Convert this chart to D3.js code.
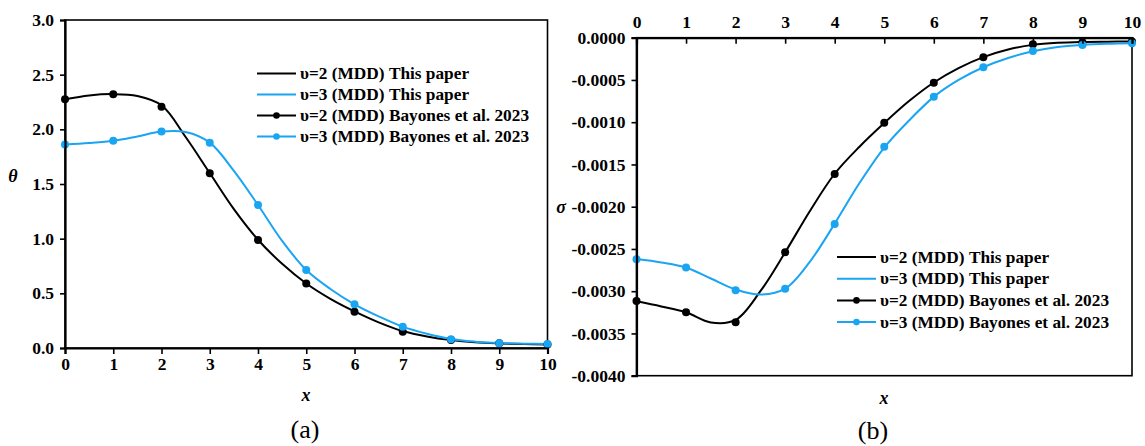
<!DOCTYPE html>
<html><head><meta charset="utf-8">
<script src="https://cdn.jsdelivr.net/npm/d3@7"></script>
<style>body{margin:0;background:#fff}svg{display:block}</style>
</head><body><svg id="c" width="1145" height="446"></svg>
<script>
const xTicks = [0,1,2,3,4,5,6,7,8,9,10];
const markerX = [0,1,2,3,4,5,6,7,8,9,10];
const lineX = [0,0.5,1,1.5,2,2.5,3,3.5,4,4.5,5,5.5,6,6.5,7,7.5,8,8.5,9,9.5,10];

// Panel (a): theta
const thetaTicks = [0,0.5,1,1.5,2,2.5,3];
const thetaLine2 = [2.275,2.31,2.322,2.305,2.22,1.93,1.60,1.27,0.99,0.77,0.59,0.45,0.335,0.235,0.155,0.105,0.072,0.052,0.042,0.036,0.032];
const thetaLine3 = [1.862,1.875,1.895,1.935,1.98,1.975,1.878,1.62,1.308,0.98,0.713,0.54,0.40,0.29,0.195,0.13,0.082,0.058,0.045,0.040,0.037];
const thetaMark2 = [2.275,2.322,2.207,1.598,0.988,0.59,0.332,0.149,0.073,0.043,0.032];
const thetaMark3 = [1.862,1.896,1.98,1.878,1.308,0.713,0.40,0.195,0.08,0.043,0.037];

// Panel (b): sigma
const sigmaTicks = [0,-0.0005,-0.001,-0.0015,-0.002,-0.0025,-0.003,-0.0035,-0.004];
const sigmaLine2 = [-0.00312,-0.00318,-0.00325,-0.00337,-0.00334,-0.00300,-0.00254,-0.00205,-0.00161,-0.00129,-0.00101,-0.00075,-0.00053,-0.00036,-0.00023,-0.00014,-0.000085,-0.00006,-0.00005,-0.000047,-0.000045];
const sigmaLine3 = [-0.00262,-0.00266,-0.00272,-0.00285,-0.00298,-0.00304,-0.00297,-0.00265,-0.00220,-0.00172,-0.00130,-0.00098,-0.00070,-0.00050,-0.00035,-0.00024,-0.00016,-0.00011,-0.000085,-0.000072,-0.000066];
const sigmaMark2 = [-0.003116,-0.00325,-0.003368,-0.00254,-0.001613,-0.001006,-0.000532,-0.000232,-0.000078,-0.000055,-0.000045];
const sigmaMark3 = [-0.002623,-0.00272,-0.00299,-0.00297,-0.002205,-0.00129,-0.000698,-0.00035,-0.000157,-0.000086,-0.000066];

const legendLabels = ["υ=2 (MDD) This paper","υ=3 (MDD) This paper","υ=2 (MDD) Bayones et al. 2023","υ=3 (MDD) Bayones et al. 2023"];
const BLACK = "#000", BLUE = "#1aa5f2";
const FF = "'Liberation Serif', 'Times New Roman', serif";

const svg = d3.select("#c");
const FS = 17.5, LFS = 17.3;
const hyph = f => v => f(v).replace("\u2212","-");

function panel(o){
  const g = svg.append("g").style("font-family",FF);
  const x = d3.scaleLinear().domain([0,10]).range([o.x0,o.x1]);
  const y = d3.scaleLinear().domain(o.ydom).range([o.yb,o.yt]);
  const line = d3.line().x((d,i)=>x(lineX[i])).y(d=>y(d)).curve(d3.curveCatmullRom.alpha(0.5));
  g.append("rect").attr("x",o.x0).attr("y",o.yt).attr("width",o.x1-o.x0).attr("height",o.yb-o.yt)
    .attr("fill","none").attr("stroke","#000").attr("stroke-width",1.6);
  [[o.l2,BLACK],[o.l3,BLUE]].forEach(([d,c])=>{
    g.append("path").datum(d).attr("d",line).attr("fill","none").attr("stroke",c).attr("stroke-width",2);
  });
  [[o.m2,BLACK],[o.m3,BLUE]].forEach(([d,c])=>{
    g.selectAll(null).data(d).enter().append("circle")
      .attr("cx",(v,i)=>x(markerX[i])).attr("cy",v=>y(v)).attr("r",4).attr("fill",c);
  });
  const ya = d3.axisLeft(y).tickValues(o.yticks).tickFormat(hyph(o.yfmt)).tickSize(5).tickPadding(6);
  const yg = g.append("g").attr("transform",`translate(${o.x0},0)`).call(ya);
  let xa;
  if(o.xTop){
    xa = d3.axisTop(x).tickValues(xTicks).tickFormat(d3.format("d")).tickSize(-6).tickPadding(10);
  } else {
    xa = d3.axisBottom(x).tickValues(xTicks).tickFormat(d3.format("d")).tickSize(6).tickPadding(4);
  }
  const xg = g.append("g").attr("transform",`translate(0,${o.xTop?o.yt:o.yb})`).call(xa);
  [yg,xg].forEach(a=>{
    a.attr("font-family",null);
    a.select(".domain").attr("stroke-width",2.2);
    a.selectAll(".tick line").attr("stroke-width",1.6);
    a.selectAll("text").style("font-family",FF).style("font-size",FS+"px").style("font-weight","bold").attr("fill","#000");
  });
  const tx = (p)=>g.append("text").style("font-family",FF).attr("x",p[0]).attr("y",p[1]).attr("text-anchor","middle");
  tx(o.ylab).style("font-size","18px").style("font-style","italic").style("font-weight","bold").text(o.ylab[2]);
  tx(o.xlab).style("font-size","18px").style("font-style","italic").style("font-weight","bold").text("x");
  tx(o.cap).style("font-size","26px").text(o.cap[2]);
  const lg = g.append("g");
  const cols=[BLACK,BLUE,BLACK,BLUE];
  legendLabels.forEach((t,i)=>{
    const yy = o.leg[1] + i*o.leg[2];
    lg.append("line").attr("x1",o.leg[0]).attr("x2",o.leg[0]+39).attr("y1",yy).attr("y2",yy)
      .attr("stroke",cols[i]).attr("stroke-width",2);
    if(i>=2) lg.append("circle").attr("cx",o.leg[0]+19.5).attr("cy",yy).attr("r",3.3).attr("fill",cols[i]);
    lg.append("text").attr("x",o.leg[0]+43).attr("y",yy).attr("dy","0.33em")
      .style("font-family",FF).style("font-size",LFS+"px").style("font-weight","bold").text(t);
  });
}

panel({x0:65,x1:547.5,yt:20,yb:348,ydom:[0,3],yticks:thetaTicks,yfmt:d3.format(".1f"),
  l2:thetaLine2,l3:thetaLine3,m2:thetaMark2,m3:thetaMark3,xTop:false,
  ylab:[13,182,"θ"],xlab:[306,401],cap:[305,438,"(a)"],leg:[257,73.5,21]});

panel({x0:636.5,x1:1132,yt:37.7,yb:375.7,ydom:[-0.004,0],yticks:sigmaTicks,yfmt:d3.format(".4f"),
  l2:sigmaLine2,l3:sigmaLine3,m2:sigmaMark2,m3:sigmaMark3,xTop:true,
  ylab:[561,213,"σ"],xlab:[884,404],cap:[873,439,"(b)"],leg:[837,257,21.7]});
</script></body></html>
